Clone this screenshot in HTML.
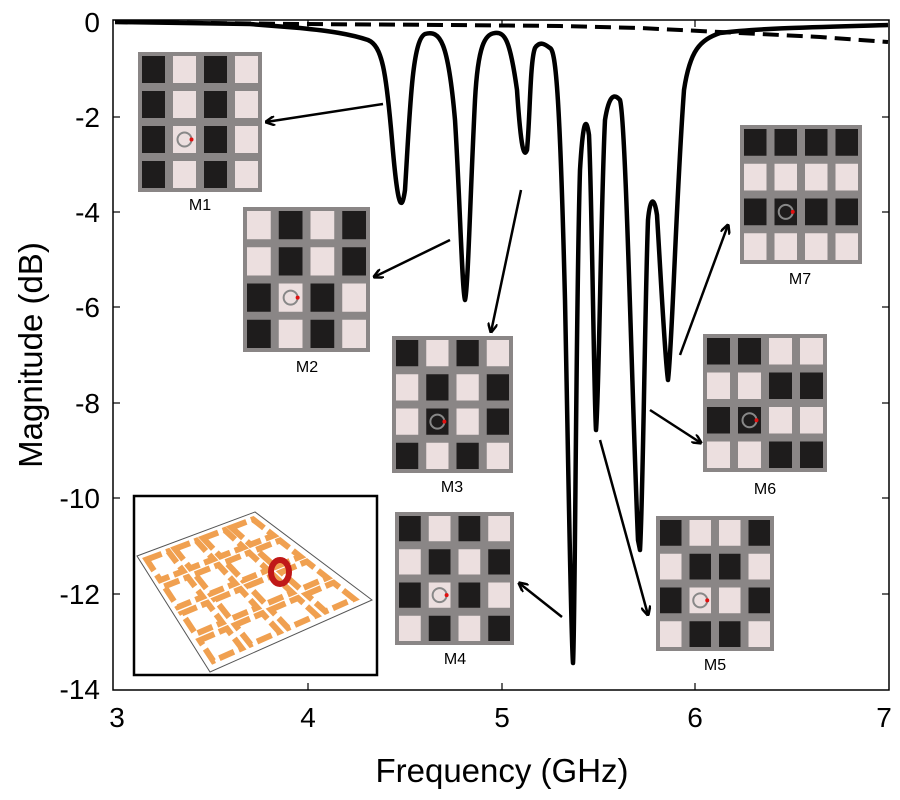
<!DOCTYPE html>
<html><head><meta charset="utf-8"><style>
html,body{margin:0;padding:0;background:#fff;width:900px;height:800px;overflow:hidden}
svg{display:block}
text{font-family:"Liberation Sans",sans-serif;fill:#000}
</style></head><body>
<svg id="s" width="900" height="800" viewBox="0 0 900 800" xmlns="http://www.w3.org/2000/svg">
<defs><marker id="ah" markerWidth="10" markerHeight="10" refX="9" refY="5" orient="auto" markerUnits="userSpaceOnUse"><path d="M0,0 L10,5 L0,10" fill="none" stroke="#000" stroke-width="2.5"/></marker></defs>
<rect x="113" y="20" width="776" height="670" fill="none" stroke="#000" stroke-width="1.5"/>
<g stroke="#000" stroke-width="1.2">
<line x1="308" y1="690" x2="308" y2="683"/><line x1="502" y1="690" x2="502" y2="683"/><line x1="695" y1="690" x2="695" y2="683"/>
<line x1="308" y1="20" x2="308" y2="27"/><line x1="502" y1="20" x2="502" y2="27"/><line x1="695" y1="20" x2="695" y2="27"/>
<line x1="113" y1="117" x2="120" y2="117"/><line x1="113" y1="212" x2="120" y2="212"/><line x1="113" y1="307" x2="120" y2="307"/><line x1="113" y1="403" x2="120" y2="403"/><line x1="113" y1="498" x2="120" y2="498"/><line x1="113" y1="594" x2="120" y2="594"/>
<line x1="889" y1="117" x2="882" y2="117"/><line x1="889" y1="212" x2="882" y2="212"/><line x1="889" y1="307" x2="882" y2="307"/><line x1="889" y1="403" x2="882" y2="403"/><line x1="889" y1="498" x2="882" y2="498"/><line x1="889" y1="594" x2="882" y2="594"/>
</g>
<g font-size="28" text-anchor="end">
<text x="100" y="32">0</text><text x="100" y="127">-2</text><text x="100" y="222">-4</text><text x="100" y="317">-6</text><text x="100" y="413">-8</text><text x="100" y="508">-10</text><text x="100" y="604">-12</text><text x="100" y="699">-14</text>
</g>
<g font-size="28" text-anchor="middle">
<text x="117" y="727">3</text><text x="308" y="727">4</text><text x="502" y="727">5</text><text x="695" y="727">6</text><text x="884" y="727">7</text>
</g>
<text x="502" y="782" font-size="33" text-anchor="middle">Frequency (GHz)</text>
<text transform="translate(42,355) rotate(-90)" font-size="33" text-anchor="middle">Magnitude (dB)</text>
<path d="M115,22 L300,24 L450,25 L560,26 L640,28 L700,31 L760,34 L820,37 L888,42" fill="none" stroke="#000" stroke-width="4" stroke-dasharray="16,8"/>
<path d="M115,22 L250,24 L300,28 C330,31 350,34 368,40 C382,46 386,70 392,140 C397,200 401,218 405,190 C410,110 412,40 425,34 C440,30 448,40 455,120 C460,200 462,290 465,300 C468,290 470,200 475,100 C478,45 485,34 495,33 C505,32 510,40 517,90 C521,150 524,158 527,150 C530,120 530,60 535,48 C540,40 546,45 550,48 C556,50 560,100 565,300 C569,500 571,640 573,663 C575,640 576,300 580,170 C583,120 586,115 589,135 C592,200 594,400 596,430 C599,400 601,200 605,120 C609,95 614,93 620,100 C626,120 632,400 638,540 L640,550 C643,500 645,300 648,220 C650,198 654,195 657,215 C661,280 665,360 668,380 C672,350 676,200 684,90 C690,50 700,40 720,33 C760,28 820,27 888,25" fill="none" stroke="#000" stroke-width="4.5" stroke-linejoin="round"/>
<g stroke="#000" stroke-width="2.5" fill="none">
<line x1="383" y1="104" x2="266" y2="122" marker-end="url(#ah)"/>
<line x1="450" y1="240" x2="374" y2="277" marker-end="url(#ah)"/>
<line x1="521" y1="190" x2="491" y2="332" marker-end="url(#ah)"/>
<line x1="562" y1="617" x2="519" y2="583" marker-end="url(#ah)"/>
<line x1="600" y1="440" x2="648" y2="615" marker-end="url(#ah)"/>
<line x1="650" y1="410" x2="701" y2="443" marker-end="url(#ah)"/>
<line x1="680" y1="355" x2="728" y2="225" marker-end="url(#ah)"/>
</g>
<g id="grids"></g>
<g font-size="16" text-anchor="middle">
<text x="200" y="210">M1</text><text x="307" y="372">M2</text><text x="452" y="492">M3</text><text x="455" y="664">M4</text><text x="715" y="670">M5</text><text x="765" y="494">M6</text><text x="800" y="284">M7</text>
</g>
<rect x="134" y="496" width="243" height="179" fill="#fff" stroke="#000" stroke-width="2.5"/>
<polygon points="137,556 255,512 372,600 210,672" fill="#fff" stroke="#555" stroke-width="1"/>
<g id="ins" fill="none" stroke="#f0a050" stroke-width="6"></g>
<ellipse cx="280" cy="572" rx="9" ry="12" fill="none" stroke="#c01818" stroke-width="6"/>
</svg>
<script>
var ns="http://www.w3.org/2000/svg",g=document.getElementById('grids');
function R(p,a){var e=document.createElementNS(ns,'rect');for(var k in a)e.setAttribute(k,a[k]);p.appendChild(e);return e}
function C(p,a){var e=document.createElementNS(ns,'circle');for(var k in a)e.setAttribute(k,a[k]);p.appendChild(e);return e}
var M=[
[138,52,124,140,["DLDL","DLDL","DCDL","DLDL"],"L"],
[243,207,127,145,["LDLD","LDLD","DCDL","DLDL"],"L"],
[392,336,121,137,["DLDL","LDLD","LCLD","DLDL"],"D"],
[395,512,119,133,["DLDL","LDLD","DCDL","LDLD"],"L"],
[656,516,118,135,["DLLD","LDDL","DCLD","LDDL"],"L"],
[703,334,124,138,["DDLL","LLDD","DCLL","LLDD"],"D"],
[740,125,122,139,["DDDD","LLLL","DCDD","LLLL"],"D"]];
M.forEach(function(m){var x=m[0],y=m[1],w=m[2],h=m[3];R(g,{x:x,y:y,width:w,height:h,fill:"#8a8686"});
var cw=w/4,ch=h/4;for(var r=0;r<4;r++)for(var c=0;c<4;c++){var t=m[4][r][c];if(t=="C")t=m[5];
R(g,{x:x+c*cw+4,y:y+r*ch+4,width:cw-8,height:ch-8,fill:t=="D"?"#1e1c1c":"#ecdfdf"});
if(m[4][r][c]=="C"){C(g,{cx:x+c*cw+cw/2,cy:y+r*ch+ch/2,r:7,fill:"none",stroke:"#888","stroke-width":2});C(g,{cx:x+c*cw+cw/2+7,cy:y+r*ch+ch/2,r:2,fill:"#e01010"});}}});
var ins=document.getElementById('ins');
function P(u,v){var A=[137,556],B=[255,512],Cc=[372,600],D=[210,672];
var x=(1-u)*(1-v)*A[0]+u*(1-v)*B[0]+u*v*Cc[0]+(1-u)*v*D[0],y=(1-u)*(1-v)*A[1]+u*(1-v)*B[1]+u*v*Cc[1]+(1-u)*v*D[1];return x+","+y}
for(var i=0;i<4;i++)for(var j=0;j<4;j++){var u0=0.05+i*0.235,v0=0.05+j*0.235,s=0.18;
var pl=document.createElementNS(ns,'polygon');pl.setAttribute('points',[P(u0,v0),P(u0+s,v0),P(u0+s,v0+s),P(u0,v0+s)].join(' '));
pl.setAttribute('stroke-dasharray','16,5');ins.appendChild(pl);}
</script>
</body></html>
